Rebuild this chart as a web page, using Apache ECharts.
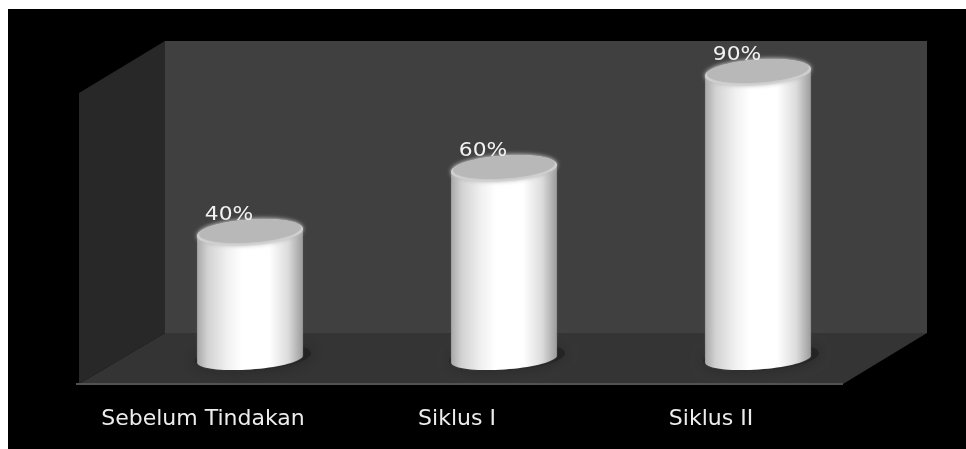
<!DOCTYPE html>
<html>
<head>
<meta charset="utf-8">
<style>html,body{margin:0;padding:0;background:#fff}#chart{width:966px;height:449px}</style>
<script src="https://cdn.jsdelivr.net/npm/echarts@6/dist/echarts.min.js"></script>
</head>
<body>
<div id="chart"></div>
<script>
// Percentage per stage
const categories = ['Sebelum Tindakan', 'Siklus I', 'Siklus II'];
const percentages = [40, 60, 90];

const FONT = '"DejaVu Sans", sans-serif';
const RX = 53, RY_TOP = 12.5, RY_BASE = 10.5, TILT = -4 * Math.PI / 180;

// Point on a slightly tilted ellipse, used for the cylinder caps and body outline
function ellipsePoint(cx, cy, rx, ry, t) {
  const x = rx * Math.cos(t), y = ry * Math.sin(t);
  return [cx + x * Math.cos(TILT) - y * Math.sin(TILT), cy + x * Math.sin(TILT) + y * Math.cos(TILT)];
}
function ellipse(cx, cy, rx, ry) {
  const pts = [];
  for (let i = 0; i < 72; i++) pts.push(ellipsePoint(cx, cy, rx, ry, i / 72 * 2 * Math.PI));
  return pts;
}
function bodyOutline(cx, topY, baseY) {
  const pts = [];
  for (let i = 0; i <= 36; i++) pts.push(ellipsePoint(cx, baseY, RX, RY_BASE, i / 36 * Math.PI));
  for (let i = 0; i <= 36; i++) pts.push(ellipsePoint(cx, topY, RX, RY_TOP, Math.PI + i / 36 * Math.PI));
  return pts;
}

const bodyGradient = {
  type: 'linear', x: 0, y: 0, x2: 1, y2: 0,
  colorStops: [
    { offset: 0, color: '#a8a8a8' },
    { offset: 0.1, color: '#d2d2d2' },
    { offset: 0.28, color: '#f0f0f0' },
    { offset: 0.42, color: '#ffffff' },
    { offset: 0.68, color: '#ffffff' },
    { offset: 0.86, color: '#dcdcdc' },
    { offset: 1, color: '#9c9c9c' }
  ]
};

function renderCylinder(params, api) {
  const idx = api.value(0), val = api.value(1);
  const top = api.coord([idx, val]);
  const base = api.coord([idx, 0]);
  const cx = top[0], topY = top[1], baseY = base[1] - 1;
  return {
    type: 'group',
    children: [
      { // soft contact shadow on the floor
        type: 'polygon', shape: { points: ellipse(cx + 3, baseY - 2, RX + 5, RY_BASE + 3) },
        style: { fill: 'rgba(28,28,28,0.6)', shadowBlur: 12, shadowColor: 'rgba(28,28,28,0.8)' }
      },
      {
        type: 'polygon', shape: { points: bodyOutline(cx, topY, baseY) },
        style: { fill: bodyGradient, shadowBlur: 2, shadowColor: 'rgba(90,90,90,0.8)' }
      },
      { // pale rim along the near edge of the cap
        type: 'polygon', shape: { points: ellipse(cx, topY + 0.5, RX, RY_TOP) },
        style: { fill: '#d8d8d8', shadowBlur: 4, shadowColor: '#bdbdbd' }
      },
      {
        type: 'polygon', shape: { points: ellipse(cx, topY - 1, RX - 2, RY_TOP - 1) },
        style: { fill: '#b8b8b8', shadowBlur: 5, shadowColor: '#b8b8b8' }
      },
      {
        type: 'text',
        x: cx - 21, y: topY - 17,
        scaleX: 1.09,
        style: {
          x: 0, y: 0,
          text: val + '%', fill: '#f2f2f2',
          font: '20px ' + FONT, align: 'center', verticalAlign: 'middle'
        }
      }
    ]
  };
}

const chart = echarts.init(document.getElementById('chart'), null, { renderer: 'canvas' });
chart.setOption({
  animation: false,
  backgroundColor: '#ffffff',
  grid: { left: 123, width: 762, top: 40, height: 320 },
  xAxis: {
    type: 'category',
    data: categories,
    axisLine: { show: false },
    axisTick: { show: false },
    axisLabel: {
      color: '#ececec', fontFamily: FONT, fontSize: 22,
      margin: 48, padding: [0, 94, 0, 0], interval: 0
    }
  },
  yAxis: { type: 'value', min: 0, max: 100, show: false },
  graphic: {
    elements: [
      { type: 'rect', z: -5, shape: { x: 8, y: 9, width: 958, height: 440 }, style: { fill: '#000000' } },
      { type: 'polygon', z: -4, shape: { points: [[165, 41], [927, 41], [927, 333], [165, 333]] }, style: { fill: '#404040' } },
      { type: 'polygon', z: -4, shape: { points: [[79, 93], [165, 41], [165, 333], [79, 384]] }, style: { fill: '#282828' } },
      { type: 'polygon', z: -4, shape: { points: [[79, 384], [165, 333], [927, 333], [843, 384]] }, style: { fill: '#343434' } },
      { type: 'rect', z: -3, shape: { x: 76, y: 383, width: 767, height: 2 }, style: { fill: '#525252' } }
    ]
  },
  series: [{
    type: 'custom',
    coordinateSystem: 'cartesian2d',
    clip: false,
    data: percentages.map((v, i) => [i, v]),
    encode: { x: 0, y: 1 },
    renderItem: renderCylinder
  }]
});
</script>
</body>
</html>
